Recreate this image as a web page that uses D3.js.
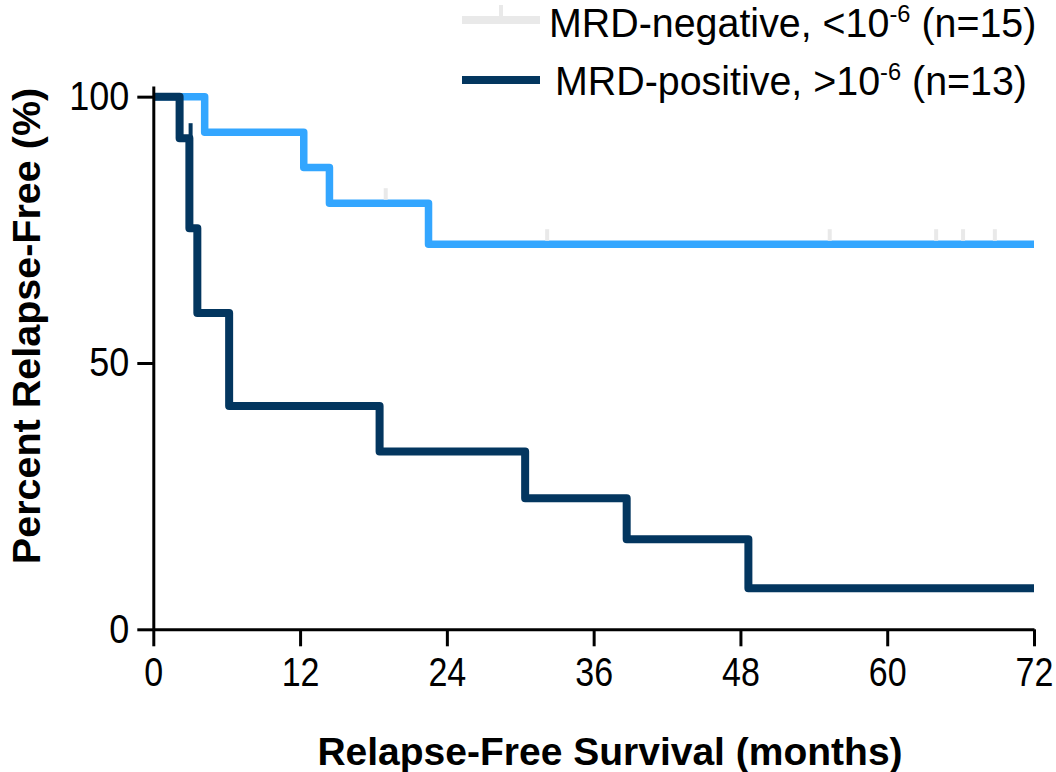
<!DOCTYPE html>
<html>
<head>
<meta charset="utf-8">
<script src="https://cdn.jsdelivr.net/npm/d3@7"></script>
<style>
  html, body { margin: 0; padding: 0; background: #fff; }
  svg { display: block; font-family: "Liberation Sans", Arial, sans-serif; }
</style>
</head>
<body>
<svg id="chart" width="1056" height="772"></svg>
<script>
// Kaplan-Meier step curves (months, % relapse-free)
const negTimes = [0, 4.2, 12.3, 14.4, 22.5, 72];
const negSurv = [100, 93.3, 86.7, 80.0, 72.3, 72.3];
const negCensorTimes = [19.0, 32.2, 55.3, 64.0, 66.2, 68.8];
const negCensorSurv = [80.0, 72.3, 72.3, 72.3, 72.3, 72.3];

const posTimes = [0, 2.15, 2.95, 3.6, 6.2, 18.5, 30.4, 38.7, 48.65, 72];
const posSurv = [100, 92.2, 75.3, 59.4, 41.9, 33.4, 24.6, 16.9, 7.7, 7.7];
const posCensorTimes = [3.05];
const posCensorSurv = [92.2];

const xTicks = [0, 12, 24, 36, 48, 60, 72];
const yTicks = [0, 50, 100];

const legendLabels = [
  { main: "MRD-negative, <10", sup: "-6", tail: " (n=15)" },
  { main: "MRD-positive, >10", sup: "-6", tail: " (n=13)" }
];

const colNeg = "#33a6ff";
const colNegCensor = "#e9e9e9";
const colPos = "#03365f";

const svg = d3.select("#chart");

const x = d3.scaleLinear().domain([0, 72]).range([153.3, 1034]);
const y = d3.scaleLinear().domain([0, 102]).range([629.3, 86]);

const step = d3.line().x(d => x(d[0])).y(d => y(d[1])).curve(d3.curveStepAfter);

// MRD-negative curve with its censor marks
svg.append("path")
  .attr("d", step(d3.zip(negTimes, negSurv)))
  .attr("fill", "none").attr("stroke", colNeg).attr("stroke-width", 7.5)
  .attr("stroke-linejoin", "round");

svg.append("g").selectAll("line")
  .data(d3.zip(negCensorTimes, negCensorSurv)).join("line")
  .attr("x1", d => x(d[0])).attr("x2", d => x(d[0]))
  .attr("y1", d => y(d[1]) - 15).attr("y2", d => y(d[1]) - 3.5)
  .attr("stroke", colNegCensor).attr("stroke-width", 4);

// MRD-positive curve with its censor mark
svg.append("path")
  .attr("d", step(d3.zip(posTimes, posSurv)))
  .attr("fill", "none").attr("stroke", colPos).attr("stroke-width", 8)
  .attr("stroke-linejoin", "round");

svg.append("g").selectAll("line")
  .data(d3.zip(posCensorTimes, posCensorSurv)).join("line")
  .attr("x1", d => x(d[0])).attr("x2", d => x(d[0]))
  .attr("y1", d => y(d[1]) - 15).attr("y2", d => y(d[1]))
  .attr("stroke", colPos).attr("stroke-width", 4);

// Axes
const xAxis = svg.append("g")
  .attr("transform", `translate(0,${y(0)})`)
  .call(d3.axisBottom(x).tickValues(xTicks).tickSize(17).tickSizeOuter(0).tickPadding(8));

const yAxis = svg.append("g")
  .attr("transform", `translate(${x(0)},0)`)
  .call(d3.axisLeft(y).tickValues(yTicks).tickSize(16).tickSizeOuter(0).tickPadding(8));

[xAxis, yAxis].forEach(g => {
  g.select(".domain").attr("stroke", "#000").attr("stroke-width", 3);
  g.selectAll(".tick line").attr("stroke", "#000").attr("stroke-width", 3);
  g.selectAll(".tick text")
    .attr("fill", "#000")
    .style("font-family", "'Liberation Sans', Arial, sans-serif")
    .style("font-size", "40px");
});

// narrow tick numerals
const xSx = 0.85, ySx = 0.9;
xAxis.selectAll(".tick text").attr("dy", "0.8em").attr("transform", `scale(${xSx},1)`);
yAxis.selectAll(".tick text").attr("x", -24 / ySx).attr("transform", `scale(${ySx},1)`);

// Axis titles
svg.append("text")
  .attr("x", 610).attr("y", 765)
  .attr("text-anchor", "middle")
  .style("font-weight", "bold").style("font-size", "39px")
  .text("Relapse-Free Survival (months)");

svg.append("text")
  .attr("transform", "translate(40,326) rotate(-90)")
  .attr("text-anchor", "middle")
  .style("font-weight", "bold").style("font-size", "39.5px")
  .text("Percent Relapse-Free (%)");

// Legend
const legendRows = [
  { y: 20, base: 37, tx: 549, color: colNegCensor, tick: true },
  { y: 80, base: 95, tx: 555, color: colPos, tick: false }
];

legendRows.forEach((r, i) => {
  const g = svg.append("g");
  g.append("line")
    .attr("x1", 462).attr("x2", 540).attr("y1", r.y).attr("y2", r.y)
    .attr("stroke", r.color).attr("stroke-width", 8);
  if (r.tick) {
    g.append("line")
      .attr("x1", 501).attr("x2", 501).attr("y1", r.y - 15).attr("y2", r.y)
      .attr("stroke", r.color).attr("stroke-width", 4);
  }
  const t = g.append("text")
    .attr("transform", `translate(${r.tx},${r.base}) scale(0.985,1)`)
    .style("font-size", "40px").attr("fill", "#000");
  t.append("tspan").text(legendLabels[i].main);
  t.append("tspan").attr("dy", -15).style("font-size", "24px").text(legendLabels[i].sup);
  t.append("tspan").attr("dy", 15).text(legendLabels[i].tail);
});
</script>
</body>
</html>
